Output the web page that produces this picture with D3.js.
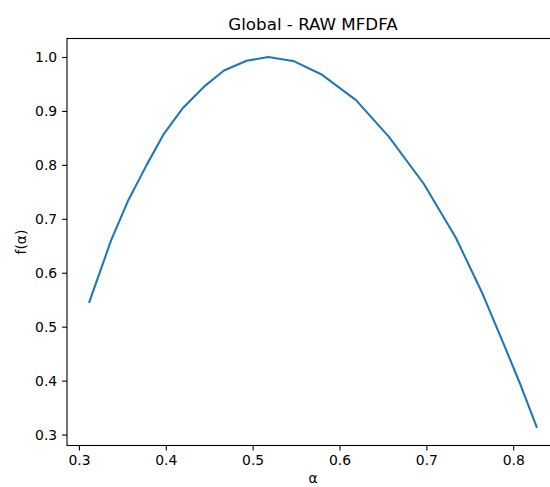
<!DOCTYPE html>
<html>
<head>
<meta charset="utf-8">
<script src="https://cdn.jsdelivr.net/npm/d3@7"></script>
<style>
  body { margin: 0; background: #fff; }
  svg { display: block; font-family: "DejaVu Sans", sans-serif; }
</style>
</head>
<body>
<div id="chart"></div>
<script>
// values
const title = "Global - RAW MFDFA";
const xLabel = "α";
const yLabel = "f(α)";
const alphaValues = [0.312, 0.337, 0.357, 0.378, 0.398, 0.420, 0.444, 0.467, 0.493, 0.518,
                     0.548, 0.580, 0.619, 0.657, 0.697, 0.734, 0.765, 0.788, 0.809, 0.827];
const fValues = [0.546, 0.660, 0.735, 0.800, 0.858, 0.906, 0.945, 0.975, 0.993, 1.000,
                 0.992, 0.967, 0.920, 0.852, 0.765, 0.665, 0.560, 0.472, 0.390, 0.314];
const xTicks = [0.3, 0.4, 0.5, 0.6, 0.7, 0.8];
const yTicks = [0.3, 0.4, 0.5, 0.6, 0.7, 0.8, 0.9, 1.0];

const width = 550;
const height = 487;
const marginTop = 38.5;
const marginLeft = 67;
const plotRight = 559; // right spine falls just outside the picture
const plotBottom = 445.5;
const lineColor = "#1f77b4";

function padded(values) {
    const lo = d3.min(values), hi = d3.max(values);
    const m = (hi - lo) * 0.05;
    return [lo - m, hi + m];
}

const xScale = d3.scaleLinear(padded(alphaValues), [marginLeft, plotRight]);
const yScale = d3.scaleLinear(padded(fValues), [plotBottom, marginTop]);

const svg = d3.create("svg")
    .attr("width", width)
    .attr("height", height)
    .attr("viewBox", [0, 0, width, height]);

svg.append("rect")
    .attr("width", width)
    .attr("height", height)
    .attr("fill", "#fff");

// axes
const xAxis = d3.axisBottom(xScale).tickValues(xTicks).tickFormat(d3.format(".1f"))
    .tickSize(4.9).tickPadding(4.9);
const yAxis = d3.axisLeft(yScale).tickValues(yTicks).tickFormat(d3.format(".1f"))
    .tickSize(4.9).tickPadding(4.9);

svg.append("g")
    .attr("transform", `translate(0,${plotBottom})`)
    .call(xAxis)
    .call(g => g.select(".domain").remove())
    .call(g => g.selectAll(".tick line").attr("stroke", "#000").attr("stroke-width", 1.1))
    .call(g => g.selectAll(".tick text").attr("fill", "#000")
        .attr("font-size", 13.9).attr("font-family", "DejaVu Sans"));

svg.append("g")
    .attr("transform", `translate(${marginLeft},0)`)
    .call(yAxis)
    .call(g => g.select(".domain").remove())
    .call(g => g.selectAll(".tick line").attr("stroke", "#000").attr("stroke-width", 1.1))
    .call(g => g.selectAll(".tick text").attr("fill", "#000")
        .attr("font-size", 13.9).attr("font-family", "DejaVu Sans"));

// the curve
const line = d3.line()
    .x((d, i) => xScale(alphaValues[i]))
    .y(d => yScale(d));

svg.append("path")
    .datum(fValues)
    .attr("fill", "none")
    .attr("stroke", lineColor)
    .attr("stroke-width", 2.08)
    .attr("stroke-linecap", "square")
    .attr("stroke-linejoin", "round")
    .attr("d", line);

// spines
svg.append("rect")
    .attr("x", marginLeft)
    .attr("y", marginTop)
    .attr("width", plotRight - marginLeft)
    .attr("height", plotBottom - marginTop)
    .attr("fill", "none")
    .attr("stroke", "#000")
    .attr("stroke-width", 1.1);

// labels
svg.append("text")
    .attr("x", (marginLeft + plotRight) / 2)
    .attr("y", 30)
    .attr("text-anchor", "middle")
    .attr("font-size", 16.7)
    .attr("fill", "#000")
    .text(title);

svg.append("text")
    .attr("x", (marginLeft + plotRight) / 2)
    .attr("y", 483)
    .attr("text-anchor", "middle")
    .attr("font-size", 13.9)
    .attr("fill", "#000")
    .text(xLabel);

svg.append("text")
    .attr("transform", `translate(26,${(marginTop + plotBottom) / 2}) rotate(-90)`)
    .attr("text-anchor", "middle")
    .attr("font-size", 13.9)
    .attr("fill", "#000")
    .text(yLabel);

d3.select("#chart").append(() => svg.node());
</script>
</body>
</html>
